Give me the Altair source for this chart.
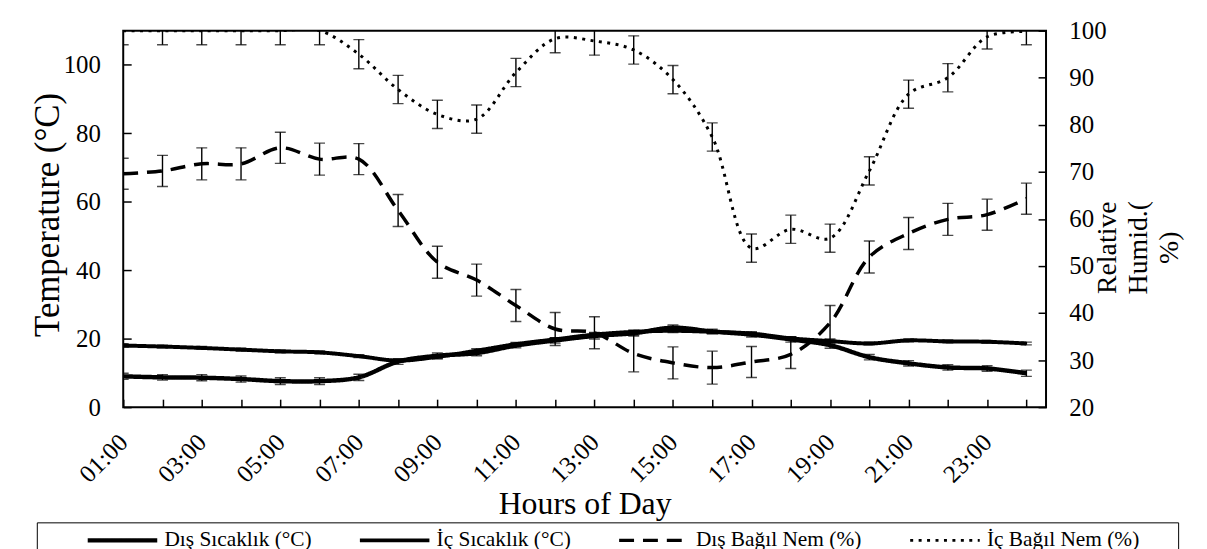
import json
import altair as alt
import pandas as pd

FONT = "'Liberation Serif', serif"

hours = list(range(1, 25))
hour_labels = ["01:00", "", "03:00", "", "05:00", "", "07:00", "", "09:00", "", "11:00", "",
               "13:00", "", "15:00", "", "17:00", "", "19:00", "", "21:00", "", "23:00", ""]

series_names = ["Dış Sıcaklık (°C)", "İç Sıcaklık (°C)", "Dış Bağıl Nem (%)", "İç Bağıl Nem (%)"]

temp_ticks = [0, 20, 40, 60, 80, 100]
rh_ticks = [20, 30, 40, 50, 60, 70, 80, 90, 100]

dis_temp = [9.0, 8.7, 8.6, 8.2, 7.6, 7.6, 8.7, 13.3, 15.0, 15.8, 18.0, 19.5,
            20.8, 21.6, 23.2, 22.1, 21.2, 19.8, 18.1, 14.6, 12.8, 11.6, 11.3, 9.9]
dis_temp_err = [0.9, 0.8, 0.9, 0.9, 1.0, 1.0, 0.9, 0.8, 0.8, 0.8, 0.7, 0.8,
                0.9, 0.8, 0.8, 0.7, 0.7, 0.8, 0.9, 0.8, 0.8, 0.8, 0.8, 0.9]
ic_temp = [18.0, 17.7, 17.3, 16.8, 16.3, 16.0, 14.9, 13.6, 14.7, 16.5, 18.4, 19.8,
           21.2, 22.0, 22.3, 22.0, 21.5, 20.1, 19.3, 18.6, 19.5, 19.2, 19.1, 18.6]
ic_temp_err = [0.5, 0.4, 0.4, 0.4, 0.4, 0.4, 0.4, 0.5, 0.6, 0.6, 0.5, 0.5,
               0.6, 0.5, 0.5, 0.5, 0.5, 0.5, 0.6, 0.4, 0.4, 0.4, 0.4, 0.4]
dis_rh = [69.6, 70.2, 71.7, 71.7, 75.1, 72.7, 72.7, 61.8, 50.8, 47.0, 41.6, 36.6,
          35.8, 31.4, 29.4, 28.4, 29.6, 31.2, 37.9, 51.9, 56.9, 59.9, 60.9, 64.3]
dis_rh_err = [3.3, 3.3, 3.4, 3.4, 3.3, 3.4, 3.3, 3.4, 3.4, 3.4, 3.4, 3.5,
              3.4, 3.9, 3.4, 3.5, 3.3, 3.0, 3.7, 3.4, 3.4, 3.4, 3.3, 3.3]
ic_rh = [100.0, 100.0, 100.0, 100.0, 100.0, 100.0, 95.0, 87.5, 82.2, 81.2, 91.1, 98.3,
         97.8, 95.9, 89.6, 77.4, 53.8, 57.8, 55.9, 70.2, 86.5, 90.0, 98.7, 99.8]
ic_rh_err = [3.0, 3.0, 3.0, 3.0, 3.0, 3.0, 3.1, 3.0, 3.0, 3.0, 3.0, 3.0,
             3.0, 3.0, 3.0, 3.0, 3.0, 3.0, 3.0, 3.0, 3.0, 3.0, 2.6, 2.8]


def frame(values, errs, name):
    df = pd.DataFrame({"hour": hours, "value": values, "err": errs, "series": name})
    df["lo"] = df["value"] - df["err"]
    df["hi"] = df["value"] + df["err"]
    return df


temp_df = pd.concat([frame(dis_temp, dis_temp_err, series_names[0]),
                     frame(ic_temp, ic_temp_err, series_names[1])], ignore_index=True)
rh_df = pd.concat([frame(dis_rh, dis_rh_err, series_names[2]),
                   frame(ic_rh, ic_rh_err, series_names[3])], ignore_index=True)

x_scale = alt.Scale(domain=[1, 24.5], nice=False, zero=False)
x_axis = alt.Axis(
    values=hours,
    labelExpr=json.dumps(hour_labels) + "[datum.value - 1]",
    labelAngle=315, labelOverlap=False, labelFlush=False, labelPadding=31,
    labelAlign="right", labelBaseline="middle",
    labelFont=FONT, labelFontSize=25, labelColor="black",
    tickSize=8, tickWidth=1.5, tickColor="black", offset=-8, domain=False, grid=False,
    title="Hours of Day", titleFont=FONT, titleFontSize=32, titleFontWeight="normal",
    titleColor="black", titleBaseline="alphabetic", titleY=115,
)
x_enc = alt.X("hour:Q", scale=x_scale, axis=x_axis, title="Hours of Day")

temp_scale = alt.Scale(domain=[0, 110], nice=False, zero=False)
rh_scale = alt.Scale(domain=[20, 100], nice=False, zero=False)

left_axis = alt.Axis(
    values=temp_ticks, tickSize=8, tickWidth=1.5, tickColor="black", offset=-8,
    domain=False, grid=False, labelFont=FONT, labelFontSize=25, labelColor="black",
    labelPadding=23, title="Temperature (°C)", titleFont=FONT, titleFontSize=35,
    titleFontWeight="normal", titleColor="black", titleX=-84, titleY=185,
    titleBaseline="middle",
)
rh_title = ["Relative", "Humid.(", "%)"]
right_axis = alt.Axis(
    orient="right", values=rh_ticks, tickSize=8, tickWidth=1.5, tickColor="black",
    offset=-8, domain=False, grid=False, labelFont=FONT, labelFontSize=25,
    labelColor="black", labelPadding=23, title=rh_title,
    titleFont=FONT, titleFontSize=28, titleFontWeight="normal", titleColor="black",
    titleLineHeight=31, titleAngle=270, titleAlign="center", titleBaseline="top",
    titleX=56, titleY=218,
)

pad = "\u2800" * 2
legend = alt.Legend(
    title=None, orient="none", legendX=-87, legendY=495, direction="horizontal",
    columns=4, strokeColor="black", padding=7,
    symbolType="M-14,0H14", symbolSize=25, symbolOffset=68.5, labelOffset=31.5,
    columnPadding=4, labelFont=FONT, labelFontSize=21.5, labelColor="black",
    labelLimit=600, symbolStrokeColor="black",
    labelExpr="datum.index == 3 ? datum.label + '" + pad + "' : datum.label",
)

dash_scale = alt.Scale(domain=series_names, range=[[1, 0], [1, 0], [15, 9], [3, 5.5]])
width_scale = alt.Scale(domain=series_names, range=[4.5, 3, 4, 3.3])


def group(df, y_scale, y_axis, title):
    base = alt.Chart(df)
    line = base.mark_line(interpolate="catmull-rom", color="black", clip=True).encode(
        x=x_enc,
        y=alt.Y("value:Q", scale=y_scale, axis=y_axis, title=title),
        strokeDash=alt.StrokeDash("series:N", scale=dash_scale, legend=legend),
        strokeWidth=alt.StrokeWidth("series:N", scale=width_scale, legend=legend),
    )
    rule = base.mark_rule(color="black", strokeWidth=1.4, clip=True).encode(
        x=x_enc, y=alt.Y("lo:Q", scale=y_scale, axis=y_axis, title=title), y2="hi:Q",
    )
    lo = base.mark_tick(orient="horizontal", size=11, thickness=1.4, color="black", clip=True).encode(
        x=x_enc, y=alt.Y("lo:Q", scale=y_scale, axis=y_axis, title=title),
    )
    hi = base.mark_tick(orient="horizontal", size=11, thickness=1.4, color="black", clip=True).encode(
        x=x_enc, y=alt.Y("hi:Q", scale=y_scale, axis=y_axis, title=title),
    )
    return alt.layer(line, rule, lo, hi)


temp = group(temp_df, temp_scale, left_axis, "Temperature (°C)")
rh = group(rh_df, rh_scale, right_axis, rh_title)

chart = (
    alt.layer(temp, rh)
    .resolve_scale(y="independent")
    .properties(
        width=929, height=379,
        autosize=alt.AutoSizeParams(type="none"),
        padding={"left": 116, "top": 21, "right": 154, "bottom": 141},
    )
    .configure(font=FONT)
    .configure_view(stroke="black", strokeWidth=2)
)

chart.save("out.html", embed_options={"renderer": "svg", "actions": False})
